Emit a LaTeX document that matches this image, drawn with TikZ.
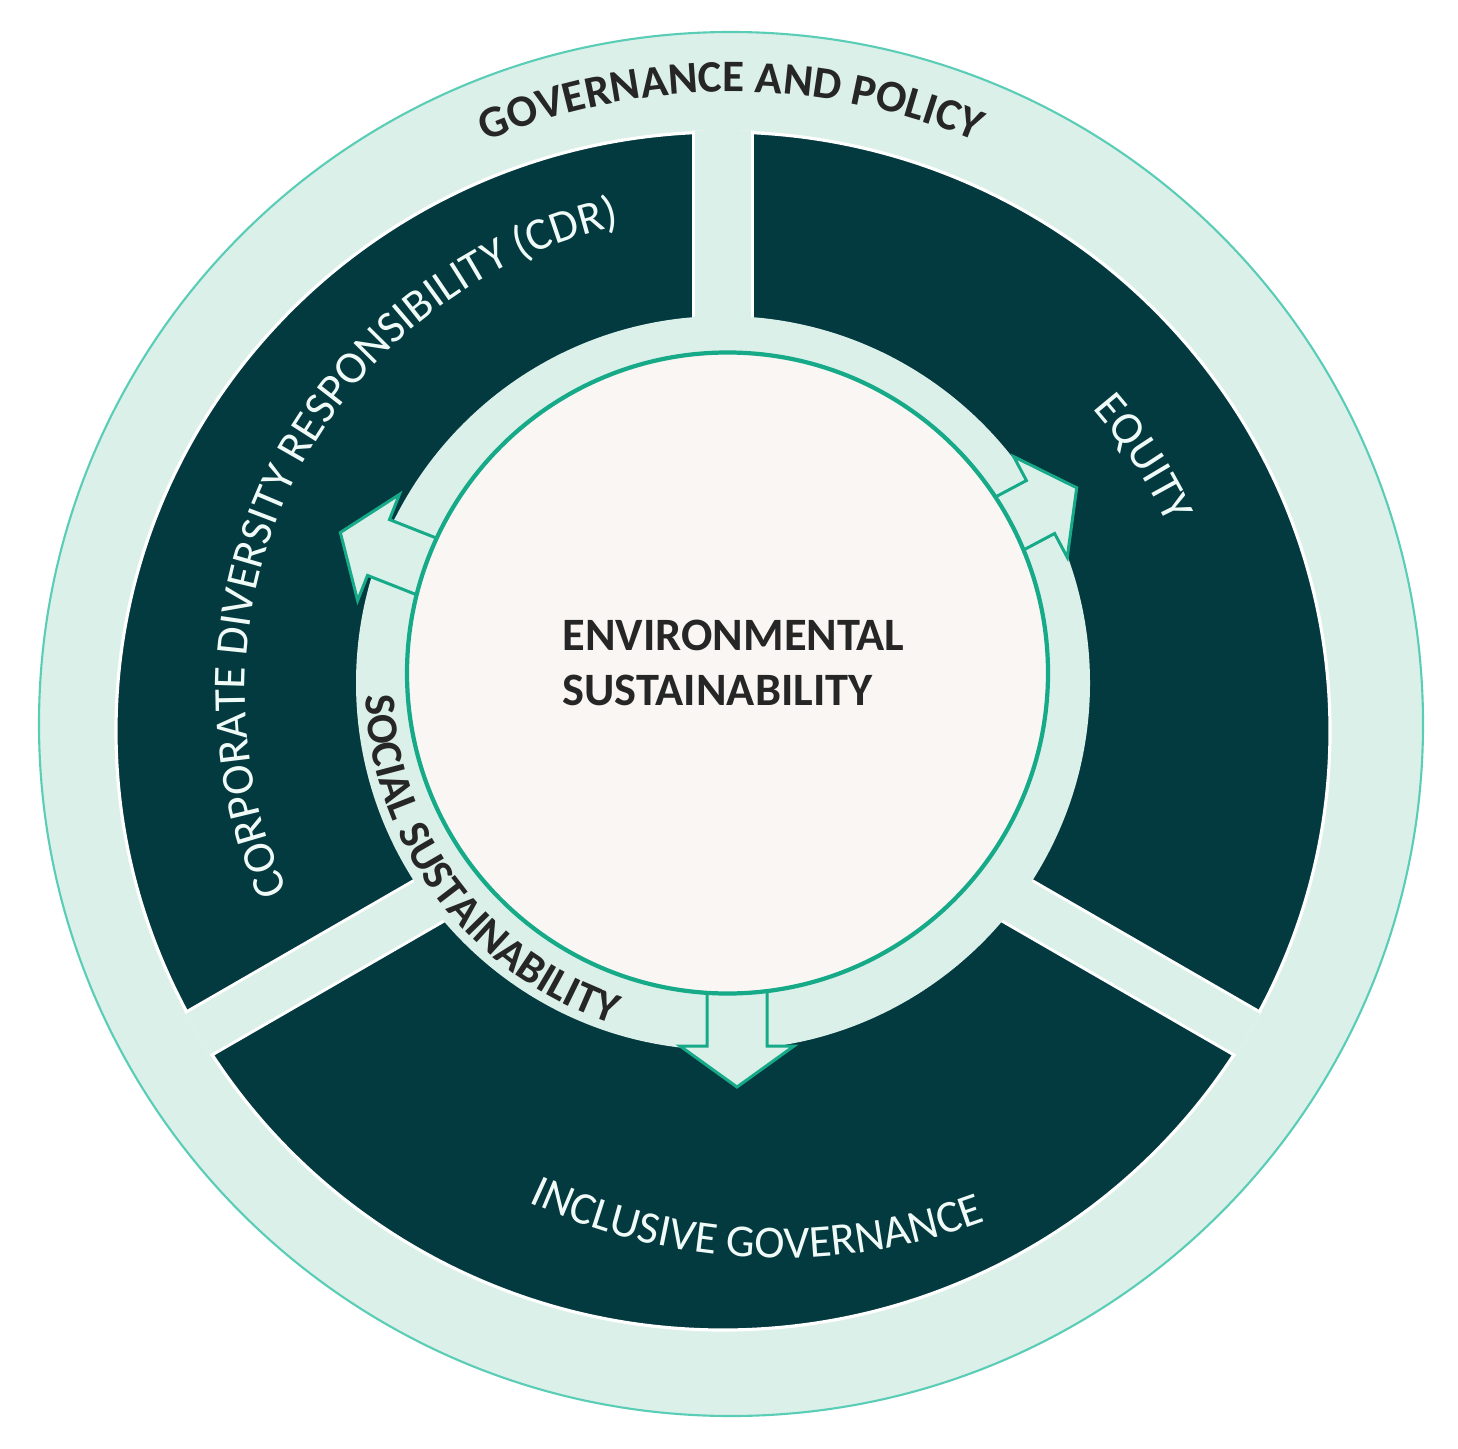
\documentclass[tikz,border=0pt]{standalone}
\usepackage{fontspec}
\setmainfont{Carlito}
\usetikzlibrary{decorations.text}
\definecolor{mint}{HTML}{DCF0EA}
\definecolor{deep}{HTML}{023A40}
\definecolor{tealline}{HTML}{16AA88}
\definecolor{rim}{HTML}{5ACDB6}
\definecolor{paper}{HTML}{FAF6F3}
\definecolor{ink}{HTML}{262626}
\definecolor{pale}{HTML}{F0FAF7}
\begin{document}
\begin{tikzpicture}[x=0.01cm,y=0.01cm,
  arrowblock/.style={fill=mint, draw=tealline, line width=0.85pt, line join=miter},
  arclabel/.style={decorate, decoration={text along path, text align=center, text color=#1}},
  centerlabel/.style={anchor=base west, inner sep=0pt, text=ink, font=\fontsize{13.2pt}{16pt}\selectfont\bfseries}]
\path[use as bounding box, fill=white] (0,0) rectangle (1458,-1449);
\coordinate (O1) at (731,-724);
\coordinate (D) at (723,-731);
\coordinate (R) at (723,-683);
\coordinate (C) at (727.5,-673);
\coordinate (Tcdr) at (723,-692);
\coordinate (Tinc) at (780,-666);
% outer ring
\draw[fill=mint, draw=rim, line width=0.6pt] (O1) circle[radius=692];
% dark annulus
\draw[fill=deep, draw=white, line width=0.9pt] (D) ellipse[x radius=607, y radius=599];
% gaps
\begin{scope}
  \clip (D) ellipse[x radius=609, y radius=601];
  \draw[white, line width=17.4pt] (D) -- ++(90:700);
  \draw[mint, line width=15.65pt] (D) -- ++(90:700);
  \foreach \a in {210,330} {
    \draw[white, line width=15.1pt] (D) -- ++(\a:700);
    \draw[mint, line width=13.37pt] (D) -- ++(\a:700);
  }
\end{scope}
% inner light ring
\fill[mint] (R) circle[radius=367];
% block arrows
\foreach \px/\py/\ang in {737/-1046/-90, 378.5/-547.5/158.5, 1040.5/-507/28} {
  \draw[arrowblock, shift={(\px,\py)}, rotate=\ang]
    (-80,-30) -- (0,-30) -- (0,-57) -- (41,0) -- (0,57) -- (0,30) -- (-80,30) -- cycle;
}
% centre disc
\draw[fill=paper, draw=tealline, line width=1.2pt] (C) circle[radius=320.5];
\node[centerlabel] (env1) at (562,-650) {ENVIRONMENTAL};
\node[centerlabel] (env2) at (562,-705) {SUSTAINABILITY};
% curved labels
\path[arclabel=ink, decoration={text={|\fontsize{12.8pt}{15pt}\selectfont\bfseries|GOVERNANCE AND POLICY}}]
  (O1) ++(130:632) arc[start angle=130, end angle=50, radius=632];
\path[arclabel=pale, decoration={text={|\fontsize{13pt}{15pt}\selectfont|CORPORATE DIVERSITY RESPONSIBILITY (CDR)}}]
  (Tcdr) ++(218.5:478) arc[start angle=218.5, end angle=88.5, radius=478];
\path[arclabel=pale, decoration={text={|\fontsize{13pt}{15pt}\selectfont|EQUITY}}]
  (D) ++(63:490) arc[start angle=63, end angle=3, radius=490];
\path[arclabel=pale, decoration={text={|\fontsize{13pt}{15pt}\selectfont|INCLUSIVE GOVERNANCE}}]
  (Tinc) ++(212.6:592) arc[start angle=212.6, end angle=322.6, radius=592];
\path[arclabel=ink, decoration={text={|\fontsize{12.5pt}{14pt}\selectfont\bfseries|SOCIAL SUSTAINABILITY}}]
  (R) ++(161:358) arc[start angle=161, end angle=273, radius=358];
\end{tikzpicture}
\end{document}
